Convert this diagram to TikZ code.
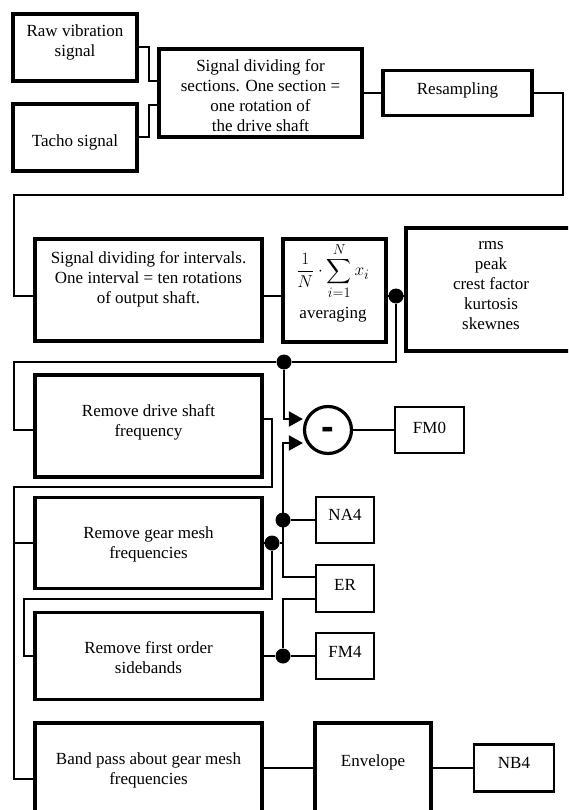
\documentclass[tikz,border=0pt]{standalone}
\usepackage{amsmath}
\usepackage{fontspec}
\setmainfont{Liberation Serif}
\setsansfont{Liberation Sans}
\usetikzlibrary{arrows.meta}
\begin{document}
\begin{tikzpicture}[x=1pt,y=-1pt,
  box/.style={draw, line width=3.2pt, rectangle, inner sep=0pt},
  sbox/.style={draw, line width=2.8pt, rectangle, inner sep=0pt},
  txt/.style={align=center, inner sep=0pt, font=\fontsize{17}{20}\selectfont},
  wire/.style={line width=2pt},
  dot/.style={circle, fill, inner sep=0pt, minimum size=15pt},
  arr/.style={wire, -{Triangle[length=14pt,width=15pt]}}]
\useasboundingbox (0,0) rectangle (568,810);
\clip (0,0) rectangle (568,810);
% boxes
\node[box, minimum width=124pt, minimum height=67pt] (raw) at (75,47.5) {};
\node[box, minimum width=124pt, minimum height=67pt] (tacho) at (75,137.5) {};
\node[box, minimum width=203pt, minimum height=88pt] (div) at (260.5,93) {};
\node[box, minimum width=149pt, minimum height=45pt] (res) at (457.5,93) {};
\node[box, minimum width=227pt, minimum height=102pt] (int) at (148.5,290) {};
\node[box, minimum width=103pt, minimum height=103pt] (avg) at (334.5,290.5) {};
\node[box, minimum width=180pt, minimum height=123pt] (rms) at (496,289.5) {};
\node[box, minimum width=227pt, minimum height=102pt] (drive) at (148.5,426) {};
\node[box, minimum width=227pt, minimum height=91pt] (gear) at (148.5,543) {};
\node[box, minimum width=227pt, minimum height=87pt] (first) at (148.5,656) {};
\node[box, minimum width=227pt, minimum height=112pt] (band) at (148.5,779) {};
\node[box, minimum width=116pt, minimum height=112pt] (env) at (373,779) {};
\node[sbox, minimum width=80pt, minimum height=47pt] (nb4) at (514,768) {};
\node[sbox, minimum width=69pt, minimum height=46pt] (fm0) at (429.5,430) {};
\node[sbox, minimum width=58pt, minimum height=46pt] (na4) at (345,520) {};
\node[sbox, minimum width=58pt, minimum height=47pt] (er) at (345,588.5) {};
\node[sbox, minimum width=58pt, minimum height=46pt] (fm4) at (345,656) {};
\node[circle, draw, line width=3.2pt, minimum size=47pt, inner sep=0pt,
  font=\fontsize{38}{38}\selectfont\sffamily\bfseries, text height=19.8pt, text depth=0pt] (sub) at (328,430) {-};
% texts
\node[txt] (raw-t) at (75,42) {Raw vibration\\signal};
\node[txt] (tacho-t) at (75,142) {Tacho signal};
\node[txt] (div-t) at (260.5,96) {Signal dividing for\\sections. One section =\\one rotation of\\the drive shaft};
\node[txt] (res-t) at (457.5,90) {Resampling};
\node[txt] (int-t) at (148.5,279) {Signal dividing for intervals.\\One interval = ten rotations\\of output shaft.};
\node[txt, font=\fontsize{19}{23}\selectfont] (avg-f) at (333,271) {$\displaystyle\frac{1}{N}\cdot\sum_{i=1}^{N}x_i$};
\node[txt] (avg-t) at (333,315) {averaging};
\node[txt] (rms-t) at (491,286) {rms\\peak\\crest factor\\kurtosis\\skewnes};
\node[txt] (drive-t) at (148.5,422) {Remove drive shaft\\frequency};
\node[txt] (gear-t) at (148.5,544.5) {Remove gear mesh\\frequencies};
\node[txt] (first-t) at (148.5,658) {Remove first order\\sidebands};
\node[txt] (band-t) at (148.5,770.5) {Band pass about gear mesh\\frequencies};
\node[txt] (env-t) at (373,762) {Envelope};
\node[txt] (nb4-t) at (514,763) {NB4};
\node[txt] (fm0-t) at (429.5,428) {FM0};
\node[txt] (na4-t) at (345,515) {NA4};
\node[txt] (er-t) at (345,585) {ER};
\node[txt] (fm4-t) at (345,652) {FM4};
% dots and junctions
\node[dot] (d1) at (396,296) {};
\node[dot] (d2) at (284,362) {};
\node[dot] (d3) at (272,543) {};
\node[dot] (d4) at (283,520) {};
\node[dot] (d5) at (283,656) {};
\coordinate (j1) at (283,543);
% connectors
\draw[wire] (raw.east) -- ++(10,0) |- ([yshift=12pt]div.west);
\draw[wire] (tacho.east) -- ++(10,0) |- ([yshift=-12pt]div.west);
\draw[wire] (div.east) -- (res.west);
\draw[wire] (res.east) -| (563,195) -| (14,296) -- (int.west |- 0,296);
\draw[wire] (int.east |- 0,296) -- (avg.west |- 0,296);
\draw[wire] (avg.east |- 0,296) -- (rms.west |- 0,296);
\draw[wire] (d1) |- (d2) -- (14,362) |- (drive.west |- 0,430);
\draw[arr] (d2) |- ([yshift=11pt]sub.west);
\draw[wire] (drive.east |- 0,419) -| (272,487) -| (14,779) -- (band.west |- 0,779);
\draw[wire] (14,543) -- (gear.west);
\draw[wire] (gear.east) -- (d3) -- (j1);
\draw[arr] (j1) |- ([yshift=-13pt]sub.west);
\draw[wire] (j1) |- (er.west |- 0,577);
\draw[wire] (d4) -- (na4.west);
\draw[wire] (d3) |- (24,599) |- (first.west);
\draw[wire] (first.east) -- (d5) -- (fm4.west);
\draw[wire] (d5) |- (er.west |- 0,599);
\draw[wire] (sub.east) -- (fm0.west);
\draw[wire] (band.east |- 0,768) -- (env.west |- 0,768);
\draw[wire] (env.east |- 0,768) -- (nb4.west);
\end{tikzpicture}
\end{document}
